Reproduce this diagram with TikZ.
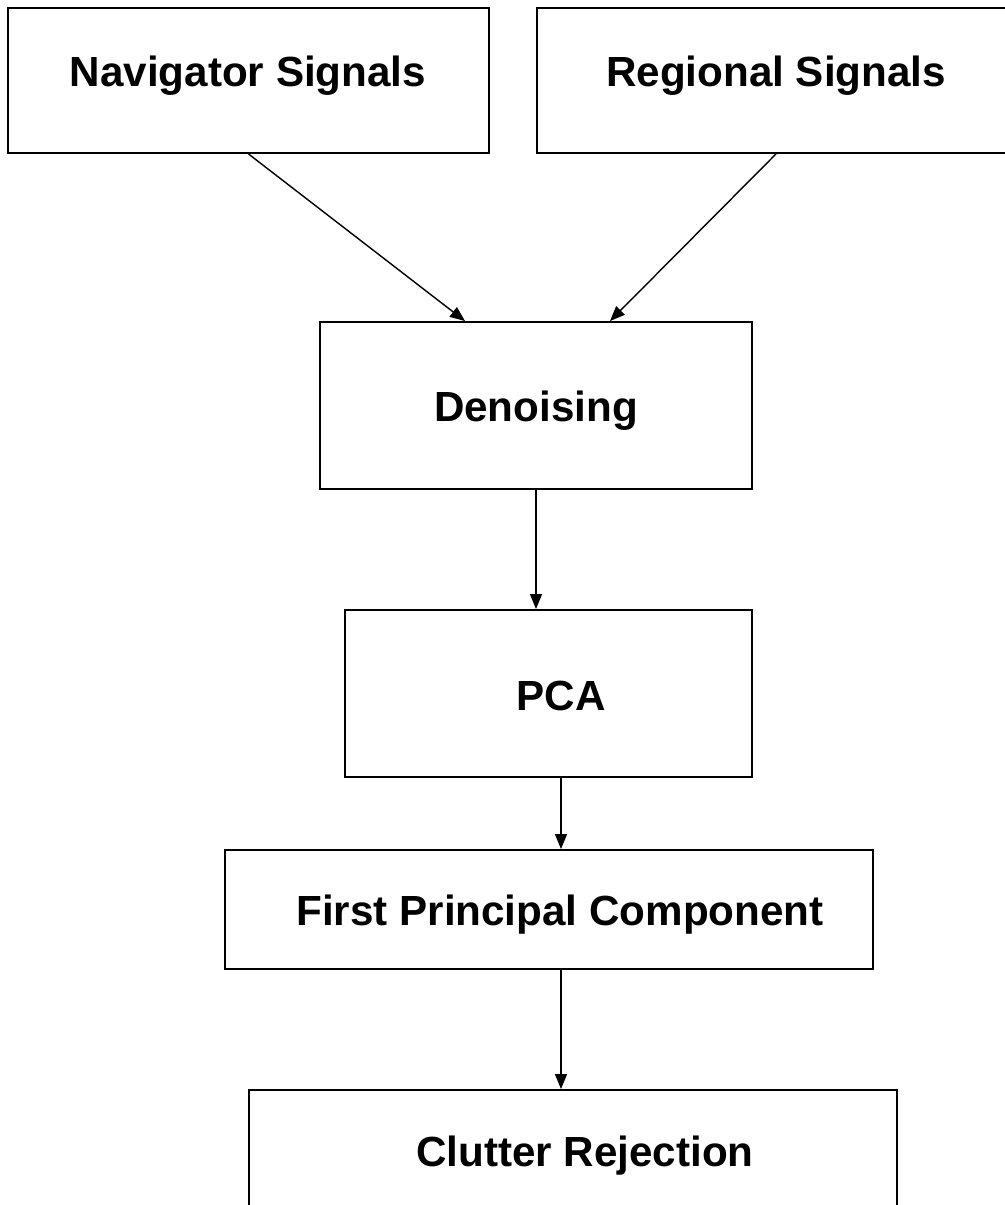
\documentclass[tikz,border=0pt]{standalone}
\usepackage{fontspec}
\setmainfont{Liberation Sans}
\usetikzlibrary{calc,arrows.meta}

\begin{document}
\begin{tikzpicture}[>={Triangle[length=0.3cm,width=0.24cm]},x=0.02cm,y=-0.02cm,
  blk/.style={draw,line width=1.1pt,inner sep=0pt},
  lbl/.style={anchor=base,font=\fontsize{24}{28}\selectfont\bfseries},
  arr/.style={->,line width=0.8pt}]
  \useasboundingbox (0,0) rectangle (1005,1205);
  % input boxes
  \node[blk,minimum width=9.62cm,minimum height=2.9cm] (nav) at (248.5,80.5) {};
  \node[blk,minimum width=9.56cm,minimum height=2.9cm] (reg) at (776,80.5) {};
  % processing chain
  \node[blk,minimum width=8.64cm,minimum height=3.34cm] (den) at (536,405.5) {};
  \node[blk,minimum width=8.14cm,minimum height=3.34cm] (pca) at (548.5,693.5) {};
  \node[blk,minimum width=12.96cm,minimum height=2.38cm] (fpc) at (549,909.5) {};
  \node[blk,minimum width=12.96cm,minimum height=3.34cm] (clu) at (573,1173.5) {};
  % labels
  \node[lbl] (navtxt) at (248,86) {Navigator Signals};
  \node[lbl] (regtxt) at (776,86) {Regional Signals};
  \node[lbl] (dentxt) at (536,421) {Denoising};
  \node[lbl] (pcatxt) at (561,710) {PCA};
  \node[lbl] (fpctxt) at (560,925) {First Principal Component};
  \node[lbl] (clutxt) at (585,1166) {Clutter Rejection};
  % connectors
  \draw[arr] (nav.south) -- ([xshift=-1.42cm]den.north);
  \draw[arr] (reg.south) -- ([xshift=1.48cm]den.north);
  \draw[arr] (den.south) -- (den.south |- pca.north);
  \draw[arr] ([xshift=0.25cm]pca.south) coordinate (p1) -- (p1 |- fpc.north);
  \draw[arr] ([xshift=0.24cm]fpc.south) coordinate (p2) -- (p2 |- clu.north);
\end{tikzpicture}
\end{document}
